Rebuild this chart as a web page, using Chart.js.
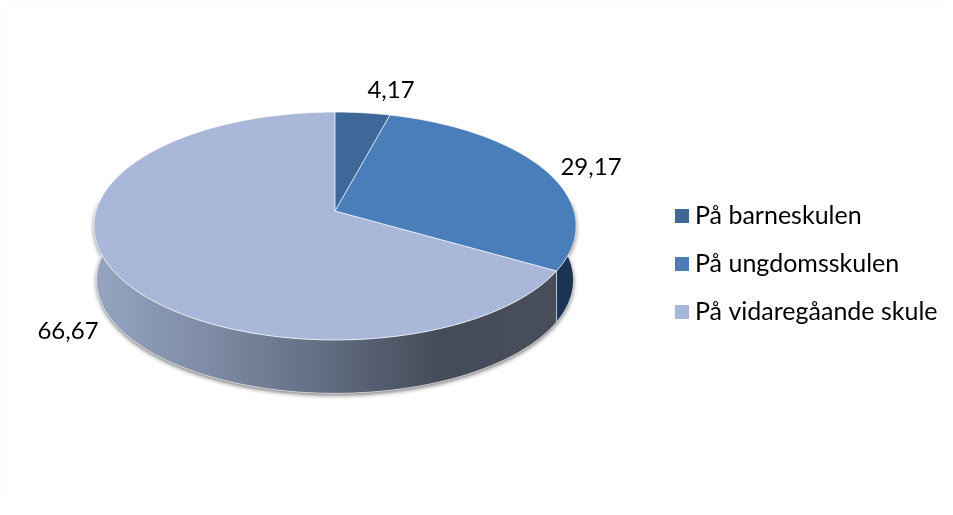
<!DOCTYPE html>
<html><head><meta charset="utf-8">
<script src="https://cdn.jsdelivr.net/npm/chart.js@4/dist/chart.umd.js"></script>
<style>html,body{margin:0;padding:0;background:#fff}#w{width:953px;height:515px;position:relative}</style>
</head><body><div id="w"><canvas id="c" width="953" height="515"></canvas></div>
<script>
const categories = ['På barneskulen', 'På ungdomsskulen', 'På vidaregåande skule'];
const values = [4.17, 29.17, 66.67];
const topColors = ['#3f6797', '#4a7ebb', '#a9b8d8'];
const sideColors = ['#263f5e', '#1d3554', null];
const FONT = 'Lato, Carlito, sans-serif';

const G = {x: 335, y: 211, rx: 239, ry: 112, k: 0.1316, kLow: 0.16, depth: 51, shrink: 0.985};
function proj(a, lower) {
  const u = Math.cos(a), v = Math.sin(a), w = 1 - (lower ? G.kLow : G.k) * v;
  const s = lower ? G.shrink : 1;
  return [G.x + s * G.rx * u / w, G.y + (lower ? G.depth : 0) + s * G.ry * v / w];
}
function rim(ctx, a0, a1, lower, first) {
  const n = Math.max(2, Math.ceil(Math.abs(a1 - a0) * 90));
  for (let i = 0; i <= n; i++) {
    const p = proj(a0 + (a1 - a0) * i / n, lower);
    if (first && i === 0) ctx.moveTo(p[0], p[1]); else ctx.lineTo(p[0], p[1]);
  }
}
const pie3d = {
  id: 'pie3d',
  beforeDraw(chart) {
    const c = chart.ctx;
    c.save(); c.strokeStyle = '#fbfbfb'; c.lineWidth = 1;
    c.beginPath(); c.moveTo(5.5, 500); c.lineTo(5.5, 7.5); c.lineTo(947, 7.5); c.stroke(); c.restore();
  },
  beforeDatasetsDraw(chart) {
    const c = chart.ctx, arcs = chart.getDatasetMeta(0).data;
    const lo = -0.1, hi = Math.PI + 0.1;
    c.save();
    const grad = c.createLinearGradient(94, 0, 576, 0);
    grad.addColorStop(0, '#95a5c0');
    grad.addColorStop(0.25, '#7c8aa3');
    grad.addColorStop(0.5, '#5f6a7e');
    grad.addColorStop(0.72, '#454b59');
    grad.addColorStop(1, '#4a4e5b');
    c.save();
    c.shadowColor = 'rgba(0,0,0,0.55)'; c.shadowBlur = 4; c.shadowOffsetX = 0; c.shadowOffsetY = 2;
    c.fillStyle = '#ddd';
    c.beginPath(); rim(c, lo, hi, false, true); rim(c, hi, lo, true, false); c.closePath(); c.fill();
    c.restore();
    arcs.forEach((el, i) => {
      const a0 = Math.max(el.startAngle, lo), a1 = Math.min(el.endAngle, hi);
      if (a1 <= a0) return;
      c.fillStyle = sideColors[i] || grad;
      c.beginPath(); rim(c, a0, a1, false, true); rim(c, a1, a0, true, false); c.closePath(); c.fill();
    });
    c.strokeStyle = 'rgba(255,255,255,0.6)'; c.lineWidth = 1;
    c.beginPath(); rim(c, lo, hi, true, true); c.stroke();
    arcs.forEach(el => {
      if (el.startAngle > lo && el.startAngle < hi) {
        const a = proj(el.startAngle, false), b = proj(el.startAngle, true);
        c.beginPath(); c.moveTo(a[0], a[1]); c.lineTo(b[0], b[1]); c.stroke();
      }
    });
    arcs.forEach((el, i) => {
      c.fillStyle = topColors[i];
      c.beginPath(); c.moveTo(G.x, G.y); rim(c, el.startAngle, el.endAngle, false, false); c.closePath(); c.fill();
    });
    c.strokeStyle = 'rgba(255,255,255,0.75)'; c.lineWidth = 1;
    arcs.forEach(el => {
      const a = proj(el.startAngle, false);
      c.beginPath(); c.moveTo(G.x, G.y); c.lineTo(a[0], a[1]); c.stroke();
      c.beginPath(); rim(c, el.startAngle, el.endAngle, false, true); c.stroke();
    });
    c.restore();
    return false;
  },
  afterDraw(chart) {
    const c = chart.ctx, pos = [[391, 90], [591, 167], [68, 331]];
    c.save();
    c.fillStyle = '#000'; c.textAlign = 'center'; c.textBaseline = 'middle';
    c.font = '24px ' + FONT;
    values.forEach((v, i) => c.fillText(v.toFixed(2).replace('.', ','), pos[i][0], pos[i][1]));
    c.textAlign = 'left'; c.textBaseline = 'alphabetic'; c.font = '25px ' + FONT;
    categories.forEach((t, i) => {
      const y = 209 + i * 48;
      c.fillStyle = topColors[i]; c.fillRect(675, y, 14, 14);
      c.fillStyle = '#000'; c.fillText(t, 695, y + 15);
    });
    c.restore();
  }
};
new Chart(document.getElementById('c'), {
  type: 'pie',
  data: {labels: categories, datasets: [{data: values, backgroundColor: topColors, borderWidth: 0}]},
  options: {
    responsive: false, animation: false,
    plugins: {tooltip: {enabled: false}, legend: {display: false}}
  },
  plugins: [pie3d]
});
</script></body></html>
